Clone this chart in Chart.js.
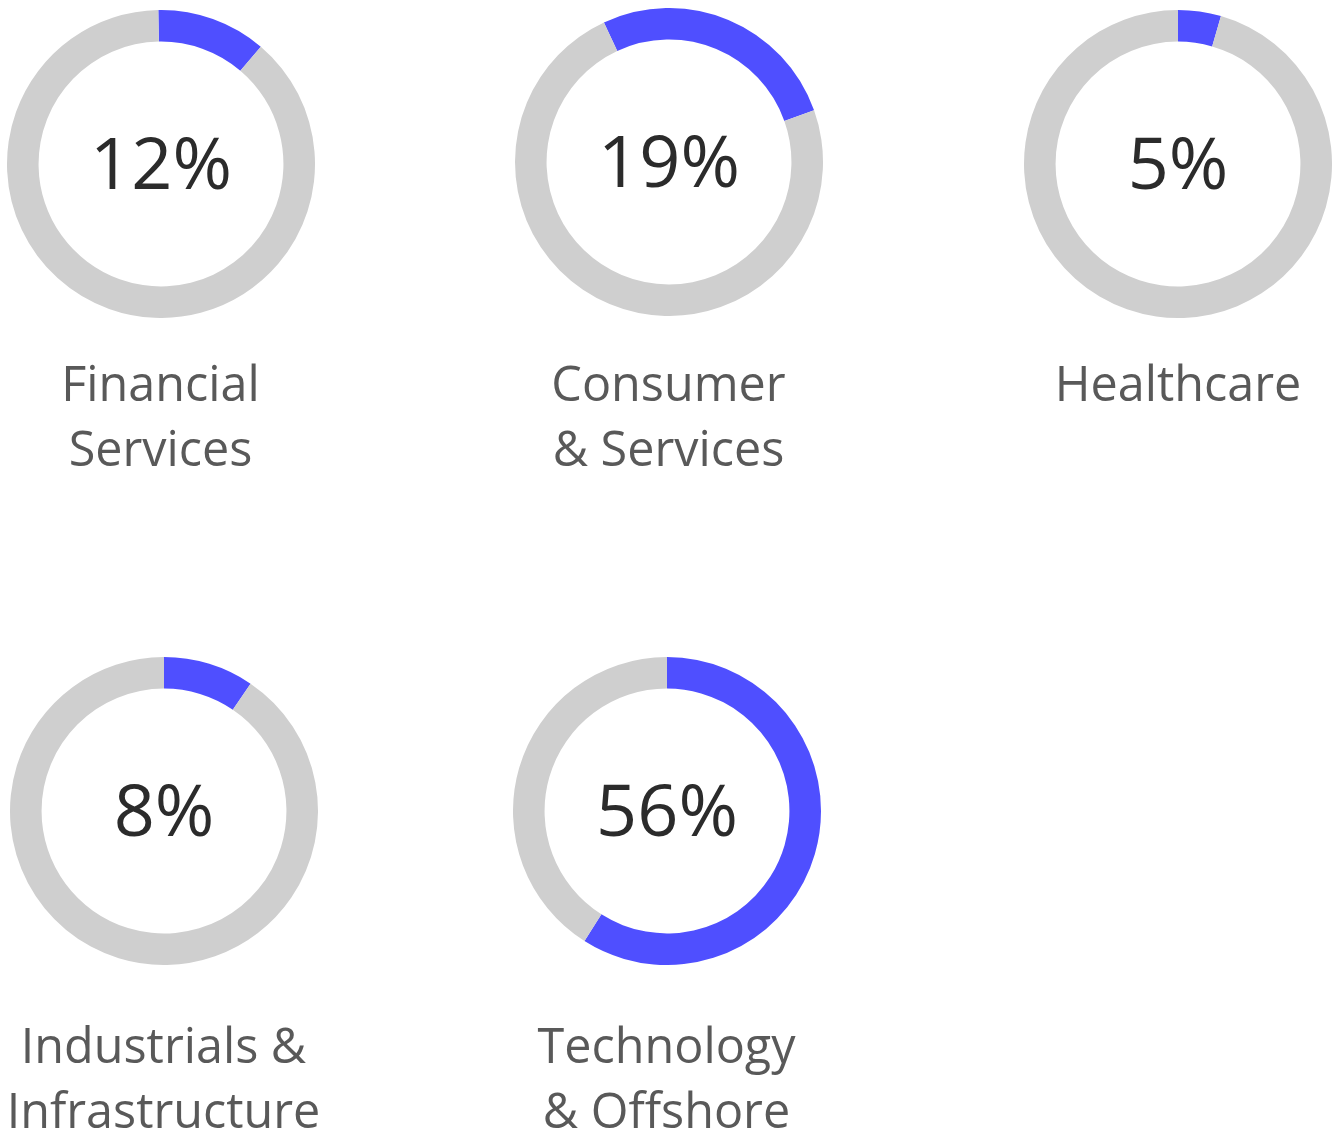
<!DOCTYPE html>
<html>
<head>
<meta charset="utf-8">
<script src="https://cdn.jsdelivr.net/npm/chart.js@4.4.1/dist/chart.umd.min.js"></script>
<style>
  body { margin: 0; background: #fff; }
  #page { position: relative; width: 1333px; height: 1129px; overflow: hidden; font-family: "Open Sans", sans-serif; }
  .donut { position: absolute; }
  .label { position: absolute; width: 420px; text-align: center; font-size: 48.5px; line-height: 65px; color: #595959; white-space: nowrap; }
</style>
</head>
<body>
<div id="page"></div>
<script>
// data
const sectorNames = [["Financial", "Services"], ["Consumer", "& Services"], ["Healthcare"], ["Industrials &", "Infrastructure"], ["Technology", "& Offshore"]];
const shareLabels = ["12%", "19%", "5%", "8%", "56%"];
const arcShares = [11.5, 26.5, 4.5, 9.5, 59];   // size of the blue arc as drawn
const arcStart = [-1, -25, 0, 0, 0];             // degrees, 0 = top

// layout
const centers = [[160.5, 164], [668.5, 162], [1178, 164], [163.5, 811], [666.5, 811]];
const labelBaseline = [401, 401, 401, 1063, 1063];
const RADIUS = 154;

const BLUE = "#4f4fff";
const GREY = "#cfcfcf";

const centerText = {
  id: "centerText",
  afterDatasetsDraw(chart, args, opts) {
    const arc = chart.getDatasetMeta(0).data[0];
    const ctx = chart.ctx;
    ctx.save();
    ctx.font = '400 72px "Open Sans"';
    ctx.fillStyle = "#2b2b2b";
    ctx.textAlign = "center";
    ctx.textBaseline = "alphabetic";
    ctx.fillText(opts.text, arc.x, arc.y + 25);
    ctx.restore();
  }
};

const page = document.getElementById("page");

sectorNames.forEach((lines, i) => {
  const [cx, cy] = centers[i];

  const canvas = document.createElement("canvas");
  canvas.className = "donut";
  canvas.width = RADIUS * 2;
  canvas.height = RADIUS * 2;
  canvas.style.left = (cx - RADIUS) + "px";
  canvas.style.top = (cy - RADIUS) + "px";
  page.appendChild(canvas);

  new Chart(canvas, {
    type: "doughnut",
    data: {
      labels: [lines.join(" "), "Other"],
      datasets: [{
        data: [arcShares[i], 100 - arcShares[i]],
        backgroundColor: [BLUE, GREY],
        borderWidth: 0,
        hoverOffset: 0
      }]
    },
    options: {
      responsive: false,
      animation: false,
      events: [],
      cutout: "79.5%",
      rotation: arcStart[i],
      plugins: {
        legend: { display: false },
        tooltip: { enabled: false },
        centerText: { text: shareLabels[i] }
      }
    },
    plugins: [centerText]
  });

  const label = document.createElement("div");
  label.className = "label";
  label.style.left = (cx - 210) + "px";
  label.style.top = (labelBaseline[i] - 51) + "px";
  label.innerHTML = lines.join("<br>");
  page.appendChild(label);
});
</script>
</body>
</html>
